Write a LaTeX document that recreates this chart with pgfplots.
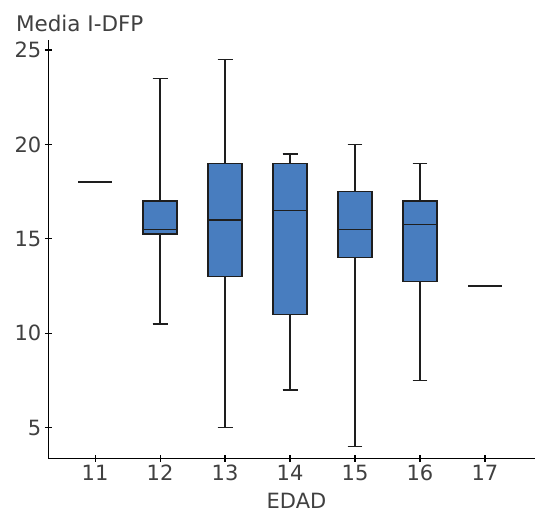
\documentclass[border=0pt]{standalone}
\usepackage{fontspec}
\setmainfont{DejaVu Sans}
\usepackage{pgfplots}
\pgfplotsset{compat=1.18}
\usepgfplotslibrary{statistics}
\usetikzlibrary{calc}

\definecolor{boxblue}{RGB}{72,125,191}
\definecolor{labelgrey}{RGB}{64,64,64}
\definecolor{edge}{RGB}{30,30,30}

\pgfplotsset{
  agebox/.style={fill=boxblue, draw=edge, line width=1.5bp,
    boxplot/box extend=0.52, boxplot/whisker extend=0.23},
}

\begin{document}
\begin{tikzpicture}
\begin{axis}[
  name=ax,
  scale only axis,
  width=486.7bp, height=418.3bp,
  xmin=10.28, xmax=17.77,
  ymin=3.38, ymax=25.53,
  axis lines=left,
  x axis line style={-, line width=1.1bp, black},
  y axis line style={-, line width=1.1bp, black},
  tick align=center,
  major tick length=7bp,
  tick style={line width=1.1bp, black},
  xtick={11,12,13,14,15,16,17},
  ytick={5,10,15,20,25},
  /pgf/number format/assume math mode=true,
  ticklabel style={font=\fontsize{21bp}{25bp}\selectfont, text=labelgrey},
  xlabel={EDAD},
  xlabel style={font=\fontsize{21bp}{25bp}\selectfont, text=labelgrey,
    at={(axis description cs:0.51,0)}, anchor=base, yshift=-50bp},
  ylabel={Media I-DFP},
  ylabel style={font=\fontsize{21.5bp}{25bp}\selectfont, text=labelgrey,
    rotate=-90, at={(axis description cs:0,1)}, anchor=base west,
    xshift=-35.8bp, yshift=8.3bp},
  clip=false,
  boxplot/draw direction=y,
  boxplot/every box/.style={fill=boxblue, draw=edge, line width=1.5bp},
  boxplot/every whisker/.style={draw=edge, line width=1.5bp},
  boxplot/every median/.style={draw=edge, line width=1.5bp},
]
% age 11: a single value
\addplot[agebox, boxplot prepared={draw position=11, lower whisker=18, lower quartile=18,
  median=18, upper quartile=18, upper whisker=18}]
  coordinates {};
\addplot[agebox, boxplot prepared={draw position=12, lower whisker=10.5, lower quartile=15.25,
  median=15.5, upper quartile=17, upper whisker=23.5}]
  coordinates {};
\addplot[agebox, boxplot prepared={draw position=13, lower whisker=5, lower quartile=13,
  median=16, upper quartile=19, upper whisker=24.5}]
  coordinates {};
\addplot[agebox, boxplot prepared={draw position=14, lower whisker=7, lower quartile=11,
  median=16.5, upper quartile=19, upper whisker=19.5}]
  coordinates {};
\addplot[agebox, boxplot prepared={draw position=15, lower whisker=4, lower quartile=14,
  median=15.5, upper quartile=17.5, upper whisker=20}]
  coordinates {};
\addplot[agebox, boxplot prepared={draw position=16, lower whisker=7.5, lower quartile=12.75,
  median=15.75, upper quartile=17, upper whisker=19}]
  coordinates {};
% age 17: a single value
\addplot[agebox, boxplot prepared={draw position=17, lower whisker=12.5, lower quartile=12.5,
  median=12.5, upper quartile=12.5, upper whisker=12.5}]
  coordinates {};
\end{axis}
\pgfresetboundingbox
\path ($(ax.south west)+(-48.3bp,-53.7bp)$) rectangle ($(ax.north east)+(0bp,40bp)$);
\end{tikzpicture}
\end{document}
